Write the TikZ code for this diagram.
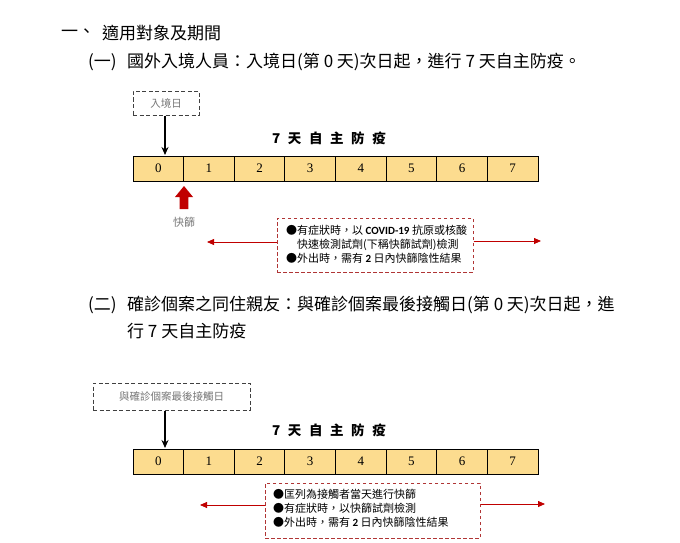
\documentclass[tikz,border=0pt]{standalone}
\usepackage{fontspec}
\usetikzlibrary{arrows.meta}
\newfontfamily\cjk{Noto Sans CJK TC}
\newfontfamily\tnr{Liberation Serif}
\newfontfamily\calfont{Carlito}
\definecolor{barfill}{HTML}{FCDC8F}
\definecolor{darkred}{HTML}{C00000}
\definecolor{boxred}{HTML}{B03535}
\definecolor{graytxt}{HTML}{777777}
\tikzset{
  heading/.style={anchor=west, inner sep=0pt, font=\cjk\fontsize{17}{20}\selectfont},
  daycell/.style={draw=black, line width=0.8pt, fill=barfill, minimum width=50.625pt, minimum height=25pt, inner sep=0pt, font=\tnr\fontsize{13}{13}\selectfont},
  title/.style={inner sep=0pt, font=\cjk\bfseries\fontsize{13.5}{14}\selectfont},
  graybox/.style={draw=black!75, line width=1pt, dash pattern=on 4pt off 2.5pt, inner sep=0pt, text=graytxt, font=\cjk\fontsize{10.5}{12}\selectfont},
  redbox/.style={draw=boxred, line width=1pt, dash pattern=on 3.5pt off 2.5pt, inner sep=0pt},
  boxtext/.style={anchor=north west, inner sep=0pt, align=left, font=\cjk\fontsize{11}{14}\selectfont},
  blackarrow/.style={-{Stealth[length=8pt,width=7pt]}, line width=1.4pt},
  redarrow/.style={-{Triangle[length=7pt,width=6pt]}, line width=0.8pt, draw=darkred, fill=darkred},
}
\begin{document}
\begin{tikzpicture}[x=1pt,y=-1pt]
\useasboundingbox[fill=white] (0,0) rectangle (680,543);

% headings
\node[heading] (h1a) at (61,33) {一、};
\node[heading] (h1b) at (102,33) {適用對象及期間};
\node[heading] (h2a) at (88,62) {(一)};
\node[heading] (h2b) at (127,62) {國外入境人員：入境日(第 0 天)次日起，進行 7 天自主防疫。};
\node[heading] (h3a) at (88,305) {(二)};
\node[heading] (h3b) at (127,305) {確診個案之同住親友：與確診個案最後接觸日(第 0 天)次日起，進};
\node[heading] (h3c) at (127,331) {行 7 天自主防疫};

% ---------- part 1 ----------
\node[graybox, minimum width=66pt, minimum height=24pt] (g1) at (166,103) {入境日};
\node[title] (t1) at (329,138) {7\,\, 天\,\, 自\,\, 主\,\, 防\,\, 疫};
\foreach \i in {0,...,7}{
  \node[daycell] (a\i) at ({133+50.625*(\i+0.5)},168.5) {\i};
}
\coordinate (g1t) at (165,155);
\draw[blackarrow] (g1.south -| g1t) -- (g1t);

% red block arrow
\fill[darkred] (184,186) -- (193,197) -- (188.3,197) -- (188.3,209) -- (179.7,209) -- (179.7,197) -- (175,197) -- cycle;
\node[inner sep=0pt, text=graytxt, font=\cjk\fontsize{11}{12}\selectfont] (k1) at (184,222) {快篩};

\node[redbox, minimum width=196pt, minimum height=54pt] (r1) at (375,245) {};
\node[boxtext] (r1t) at (286,224.5) {●有症狀時，以 {\calfont\bfseries COVID-19} 抗原或核酸\\
\hspace{11pt}快速檢測試劑(下稱快篩試劑)檢測\\
●外出時，需有 {\calfont\bfseries 2} 日內快篩陰性結果};
\coordinate (l1) at (207,242);
\coordinate (e1) at (541,241);
\draw[redarrow] (r1.west |- l1) -- (l1);
\draw[redarrow] (r1.east |- e1) -- (e1);

% ---------- part 2 ----------
\node[graybox, minimum width=157pt, minimum height=27pt] (g2) at (171.5,396.5) {與確診個案最後接觸日};
\node[title] (t2) at (329,430) {7\,\, 天\,\, 自\,\, 主\,\, 防\,\, 疫};
\foreach \i in {0,...,7}{
  \node[daycell] (b\i) at ({133+50.625*(\i+0.5)},461.5) {\i};
}
\coordinate (g2t) at (165,448);
\draw[blackarrow] (g2.south -| g2t) -- (g2t);

\node[redbox, minimum width=215pt, minimum height=55pt] (r2) at (372.5,510.5) {};
\node[boxtext] (r2t) at (273,489) {●匡列為接觸者當天進行快篩\\
●有症狀時，以快篩試劑檢測\\
●外出時，需有 {\calfont\bfseries 2} 日內快篩陰性結果};
\coordinate (l2) at (200,505);
\coordinate (e2) at (545,504);
\draw[redarrow] (r2.west |- l2) -- (l2);
\draw[redarrow] (r2.east |- e2) -- (e2);
\end{tikzpicture}
\end{document}
